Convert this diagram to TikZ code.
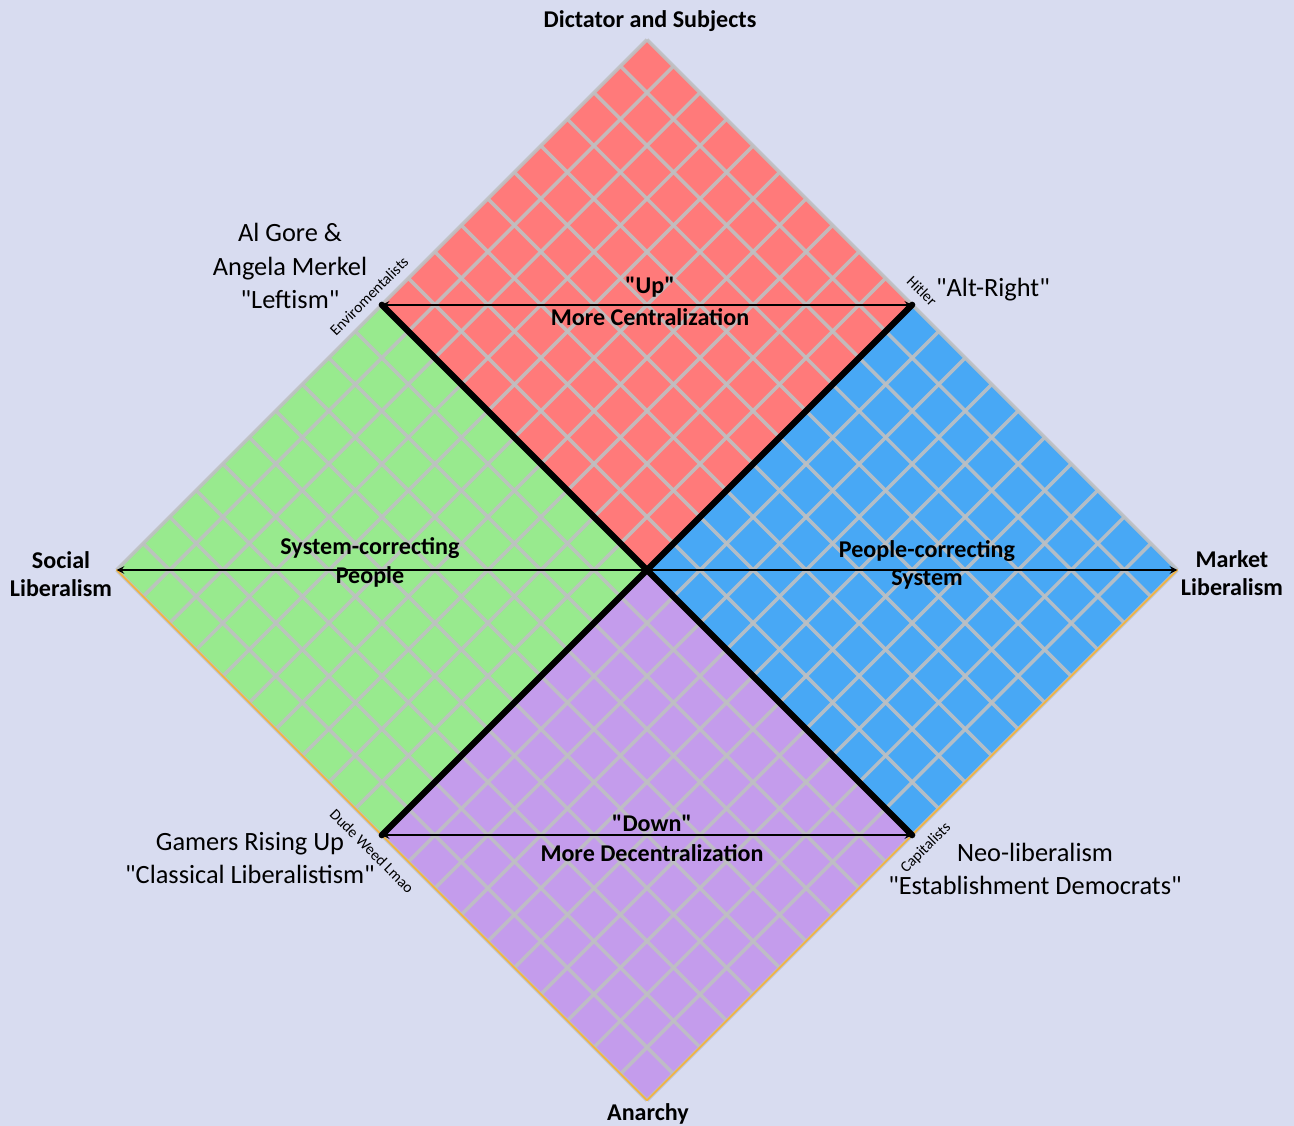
\documentclass[tikz,border=0pt]{standalone}
\usepackage{fontspec}
\setmainfont{Carlito}[Ligatures=TeXOff]
\definecolor{bgcol}{RGB}{216,220,240}
\definecolor{redq}{RGB}{255,122,122}
\definecolor{greenq}{RGB}{152,234,142}
\definecolor{blueq}{RGB}{72,168,245}
\definecolor{purpleq}{RGB}{196,156,236}
\definecolor{gridcol}{RGB}{190,192,194}
\definecolor{rimcol}{RGB}{245,180,60}
\begin{document}
\begin{tikzpicture}[line join=round, line cap=round, >=stealth,
	axislabel/.style={font=\bfseries\fontsize{13.7}{16}\selectfont, align=center},
	camp/.style={font=\fontsize{15}{19}\selectfont, align=center},
	tag/.style={font=\fontsize{8.8}{10}\selectfont, inner sep=0pt},
	gridline/.style={draw=gridcol, line width=2pt, line cap=butt, opacity=0.9},
	divider/.style={line width=3.6pt},
	axisarrow/.style={<->, line width=0.9pt}]
	\useasboundingbox[fill=bgcol] (-12.94,-11.12) rectangle (12.94,11.40);
	\coordinate (T) at (0,10.607);
	\coordinate (B) at (0,-10.607);
	\coordinate (L) at (-10.607,0);
	\coordinate (R) at (10.607,0);
	\coordinate (UL) at (-5.303,5.303);
	\coordinate (UR) at (5.303,5.303);
	\coordinate (LL) at (-5.303,-5.303);
	\coordinate (LR) at (5.303,-5.303);
	\begin{scope}[rotate=45]
		\fill[redq] (0,0) rectangle (7.5,7.5);
		\fill[blueq] (0,0) rectangle (7.5,-7.5);
		\fill[greenq] (0,0) rectangle (-7.5,7.5);
		\fill[purpleq] (0,0) rectangle (-7.5,-7.5);
		\foreach \i in {-10,...,10}{
			\draw[gridline] (\i*0.75,-7.5)--(\i*0.75,7.5);
			\draw[gridline] (-7.5,\i*0.75)--(7.5,\i*0.75);
		}
	\end{scope}
	\draw[rimcol, line width=0.9pt] (L)--(B)--(R);
	\draw[divider] (UL)--(LR);
	\draw[divider] (UR)--(LL);
	\draw[axisarrow] (UL)--(UR);
	\draw[axisarrow] (LL)--(LR);
	\draw[axisarrow] (L)--(R);
	\node[axislabel] (dictator) at (0.06,10.98) {Dictator and Subjects};
	\node[axislabel] (anarchy) at (0.02,-10.88) {Anarchy};
	\node[axislabel] (social) at (-11.72,-0.08) {Social\\Liberalism};
	\node[axislabel] (market) at (11.70,-0.06) {Market\\Liberalism};
	\node[axislabel] (up) at (0.06,5.66) {"Up"};
	\node[axislabel] (central) at (0.06,5.06) {More Centralization};
	\node[axislabel] (down) at (0.1,-5.06) {"Down"};
	\node[axislabel] (decentral) at (0.1,-5.66) {More Decentralization};
	\node[axislabel] (syscorr) at (-5.54,0.44) {System-correcting};
	\node[axislabel] (people) at (-5.54,-0.14) {People};
	\node[axislabel] (peocorr) at (5.6,0.38) {People-correcting};
	\node[axislabel] (system) at (5.6,-0.2) {System};
	\node[camp] (leftism) at (-7.14,6.08) {Al Gore \&\\Angela Merkel\\"Leftism"};
	\node[camp] (altright) at (6.92,5.6) {"Alt-Right"};
	\node[camp] (gamers) at (-7.94,-5.76) {Gamers Rising Up\\"Classical Liberalistism"};
	\node[camp] (neolib) at (7.76,-5.98) {Neo-liberalism\\"Establishment Democrats"};
	\node[tag, rotate=45] (enviro) at (-5.56,5.48) {Enviromentalists};
	\node[tag, rotate=-45] (hitler) at (5.5,5.58) {Hitler};
	\node[tag, rotate=-45] (dude) at (-5.5,-5.62) {Dude Weed Lmao};
	\node[tag, rotate=45] (capital) at (5.58,-5.56) {Capitalists};
\end{tikzpicture}
\end{document}
